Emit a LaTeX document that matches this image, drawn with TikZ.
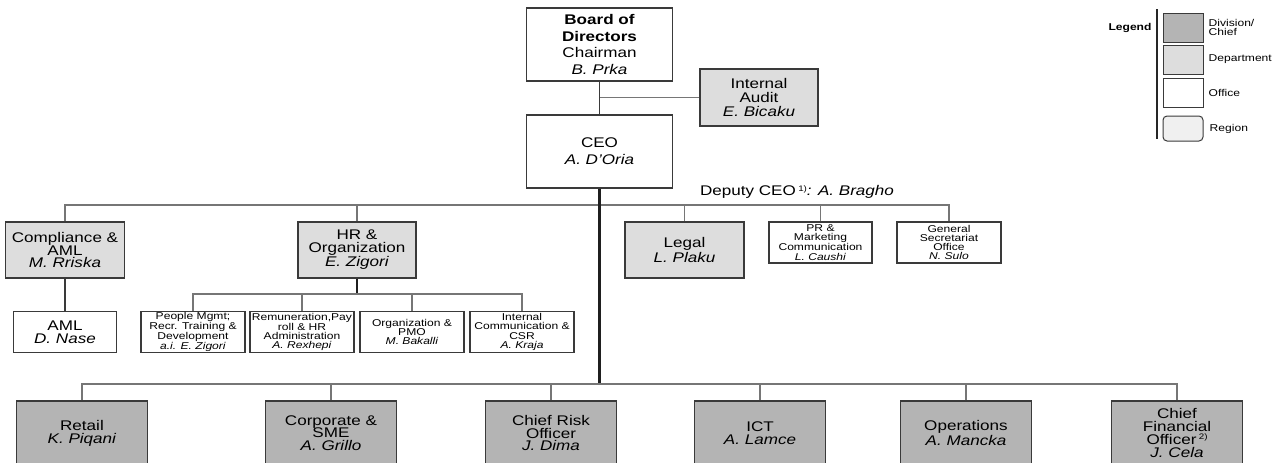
\documentclass[tikz,border=0pt]{standalone}
\usepackage{fontspec}
\setmainfont{Liberation Sans}[FakeStretch=1.22]
\usepackage{xcolor}
\usepackage{tikz}
\usetikzlibrary{positioning}
\definecolor{divisionColor}{RGB}{180, 180, 180}
\definecolor{departmentColor}{RGB}{221, 221, 221}
\definecolor{regionColor}{RGB}{240, 240, 240}
\definecolor{borderColor}{RGB}{58, 58, 58}
\definecolor{lineColor}{RGB}{118, 118, 118}
\newcommand{\supnote}[1]{\raisebox{4.5pt}{\fontsize{8}{8}\selectfont #1}}
\tikzset{
  orgbox/.style={draw=borderColor, line width=1.1pt, inner sep=0pt, align=center},
  divbox/.style={orgbox, fill=divisionColor, minimum width=131pt, minimum height=64pt,
    font=\fontsize{14}{12.8}\selectfont},
  depbox/.style={orgbox, fill=departmentColor, minimum width=119pt, minimum height=56pt,
    font=\fontsize{14}{12.8}\selectfont},
  offbox/.style={orgbox, fill=white, minimum width=104pt, minimum height=41pt,
    font=\fontsize{9.9}{9.2}\selectfont},
  topbox/.style={orgbox, fill=white, minimum width=146pt, minimum height=73pt},
  conn/.style={draw=lineColor, line width=1.1pt},
  trunkline/.style={draw=black!88, line width=2.4pt},
  keybox/.style={draw=borderColor, line width=1pt, minimum width=40pt, minimum height=29pt, inner sep=0pt},
  keylabel/.style={font=\fontsize{9.9}{9.6}\selectfont, align=left, inner sep=0pt}
}

\begin{document}
\begin{tikzpicture}[x=1pt, y=-1pt]
    \useasboundingbox (0,0) rectangle (1285,463);

    % Top level
    \node[topbox, font=\fontsize{14}{16.5}\selectfont] (board) at (599.5,44.5)
      {\textbf{Board of}\\\textbf{Directors}\\Chairman\\\textit{B. Prka}};
    \node[topbox, font=\fontsize{14}{17}\selectfont] (ceo) at (599.5,151.5)
      {CEO\\\textit{A. D'Oria}};
    \node[depbox, minimum width=118pt, minimum height=57pt, font=\fontsize{14}{13.7}\selectfont] (audit) at (759,97.5)
      {Internal\\Audit\\\textit{E. Bicaku}};
    \draw[draw=borderColor, line width=1.2pt] (board) -- (ceo);
    \draw[conn] (audit.west) -- (audit.west -| board.south);

    % Staff functions
    \node[depbox] (compl) at (65,250) {Compliance \&\\AML\\\textit{M. Rriska}};
    \node[depbox, minimum width=118pt] (hr) at (357,250) {HR \&\\Organization\\\textit{E. Zigori}};
    \node[depbox] (legal) at (684.5,250) {Legal\\\textit{L. Plaku}};
    \node[offbox, minimum width=103pt] (pr) at (820.5,242.5) {PR \&\\Marketing\\Communication\\\textit{L. Caushi}};
    \node[offbox] (gensec) at (949,242.5) {General\\Secretariat\\Office\\\textit{N. Sulo}};
    \node[font=\fontsize{14}{14}\selectfont, inner sep=0pt] (deputy) at (797,192)
      {Deputy CEO\,\supnote{1)}\textit{: A. Bragho}};

    \coordinate (midbus) at (599.5,205);
    \draw[conn] (compl.north) |- (midbus) -| (gensec.north);
    \foreach \n in {hr, legal, pr}
      \draw[conn] (\n.north) -- (\n.north |- midbus);

    % Offices below Compliance and HR
    \node[offbox, minimum width=103pt, font=\fontsize{14}{12.8}\selectfont] (aml) at (65,332) {AML\\\textit{D. Nase}};
    \draw[draw=borderColor, line width=1.2pt] (compl) -- (aml);

    \node[offbox] (people) at (193,332) {People Mgmt;\\Recr. Training \&\\Development\\\textit{a.i. E. Zigori}};
    \node[offbox] (remun) at (302,332) {Remuneration,Pay\\roll \& HR\\Administration\\\textit{A. Rexhepi}};
    \node[offbox] (orgpmo) at (412,332) {Organization \&\\PMO\\\textit{M. Bakalli}};
    \node[offbox] (intcomm) at (522,332) {Internal\\Communication \&\\CSR\\\textit{A. Kraja}};

    \coordinate (hrbus) at (357,294);
    \draw[trunkline, line width=2pt] (hr.south) -- (hrbus);
    \draw[conn] (people.north) |- (hrbus) -| (intcomm.north);
    \foreach \n in {remun, orgpmo}
      \draw[conn] (\n.north) -- (\n.north |- hrbus);

    % Divisions
    \node[divbox] (retail) at (82,433) {Retail\\\textit{K. Piqani}};
    \node[divbox] (corp) at (331,433) {Corporate \&\\SME\\\textit{A. Grillo}};
    \node[divbox] (cro) at (551,433) {Chief Risk\\Officer\\\textit{J. Dima}};
    \node[divbox] (ict) at (760,433) {ICT\\\textit{A. Lamce}};
    \node[divbox] (ops) at (966,433) {Operations\\\textit{A. Mancka}};
    \node[divbox] (cfo) at (1177,433) {Chief\\Financial\\Officer\,\supnote{2)}\\\textit{J. Cela}};

    \coordinate (botbus) at (599.5,384);
    \draw[trunkline] (ceo.south) -- (botbus);
    \draw[conn] (retail.north) |- (botbus) -| (cfo.north);
    \foreach \n in {corp, cro, ict, ops}
      \draw[conn] (\n.north) -- (\n.north |- botbus);

    % Legend
    \node[keylabel, font=\fontsize{9.9}{9.6}\selectfont\bfseries] (legendtitle) at (1130,28) {Legend};
    \coordinate (bartop) at (1157,9);
    \coordinate (barbot) at (1157,139);
    \draw[draw=black!85, line width=2pt] (bartop) -- (barbot);
    \node[keybox, fill=divisionColor] (keydiv) at (1183,27.5) {};
    \node[keybox, fill=departmentColor] (keydep) at (1183,59.5) {};
    \node[keybox, fill=white] (keyoff) at (1183,92.5) {};
    \node[keybox, fill=regionColor, minimum height=25pt, rounded corners=4pt] (keyreg) at (1183,128.5) {};
    \node[keylabel, right=5pt of keydiv] {Division/\\Chief};
    \node[keylabel, right=5pt of keydep] {Department};
    \node[keylabel, right=5pt of keyoff] {Office};
    \node[keylabel, right=6pt of keyreg] {Region};

\end{tikzpicture}
\end{document}
